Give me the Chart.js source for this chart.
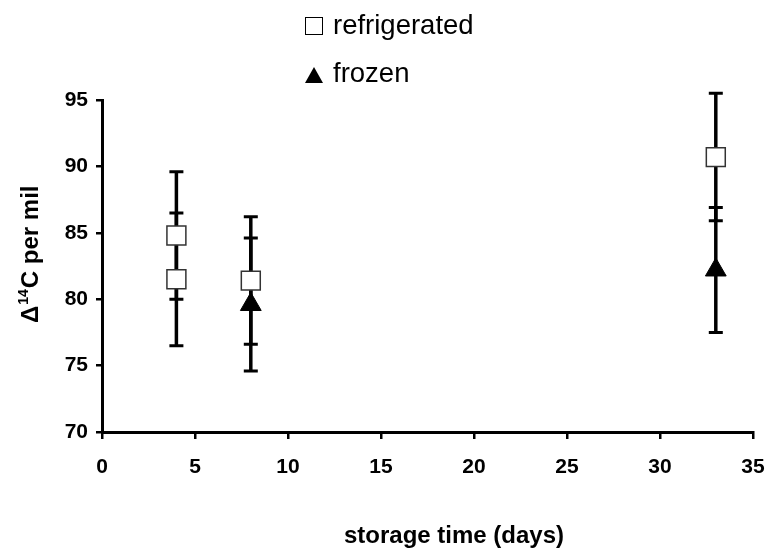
<!DOCTYPE html>
<html>
<head>
<meta charset="utf-8">
<script src="https://cdn.jsdelivr.net/npm/chart.js@4/dist/chart.umd.min.js"></script>
<style>
  html, body { margin: 0; padding: 0; background: #fff; }
  #wrap { position: relative; width: 771px; height: 550px; }
  #chart { position: absolute; left: 0; top: 0; }
  .leg { position: absolute; left: 305px; font: 27.5px "Liberation Sans", Arial, sans-serif; line-height: 26px; color: #000; white-space: nowrap; }
  .leg span.txt { position: absolute; left: 28px; top: 0; }
  .sq { position: absolute; left: 0; width: 16px; height: 16px; border: 1px solid #000; background: #fff; }
  .tri { position: absolute; left: 0; width: 0; height: 0; border-left: 9px solid transparent; border-right: 9px solid transparent; border-bottom: 16px solid #000; }
</style>
</head>
<body>
<div id="wrap">
  <canvas id="chart" width="771" height="550"></canvas>
  <div class="leg" style="top:12px"><i class="sq" style="top:5px"></i><span class="txt">refrigerated</span></div>
  <div class="leg" style="top:60px"><i class="tri" style="top:7px"></i><span class="txt">frozen</span></div>
</div>
<script>
  'use strict'

  // storage time (days) and Δ14C values
  var refrigDays = [4, 4, 8, 33];
  var refrigValues = [84.8, 81.5, 81.4, 90.7];
  var refrigErrors = [4.8, 5.0, 4.8, 4.8];

  var frozenDays = [8, 33];
  var frozenValues = [79.6, 82.2];
  var frozenErrors = [5.0, 4.7];

  var xTicks = [0, 5, 10, 15, 20, 25, 30, 35];
  var yTicks = [70, 75, 80, 85, 90, 95];

  var xTitle = 'storage time (days)';
  var yTitle = ['Δ', '14', 'C per mil'];   // base, superscript, rest

  var fontFamily = '"Liberation Sans", Arial, sans-serif';

  function toPoints(xs, ys) {
    return xs.map(function (x, i) { return { x: x, y: ys[i] }; });
  }

  // vertical error bars with caps, drawn under the markers
  var errorBars = {
    id: 'errorBars',
    beforeDatasetsDraw: function (chart) {
      var ctx = chart.ctx;
      var xs = chart.scales.x, ys = chart.scales.y;
      chart.data.datasets.forEach(function (ds) {
        ds.data.forEach(function (p, i) {
          var e = ds.errors[i];
          var px = xs.getPixelForValue(p.x);
          var top = ys.getPixelForValue(p.y + e);
          var bot = ys.getPixelForValue(p.y - e);
          ctx.save();
          ctx.strokeStyle = '#000';
          ctx.lineWidth = 3.5;
          ctx.beginPath();
          ctx.moveTo(px, top);
          ctx.lineTo(px, bot);
          ctx.stroke();
          ctx.lineWidth = 3;
          ctx.beginPath();
          ctx.moveTo(px - 7, top); ctx.lineTo(px + 7, top);
          ctx.moveTo(px - 7, bot); ctx.lineTo(px + 7, bot);
          ctx.stroke();
          ctx.restore();
        });
      });
    }
  };

  // axis titles: the y one needs a real superscript, the x one sits right of centre
  var axisTitles = {
    id: 'axisTitles',
    afterDraw: function (chart) {
      var ctx = chart.ctx;
      ctx.save();
      ctx.fillStyle = '#000';
      ctx.font = 'bold 24px ' + fontFamily;
      ctx.textAlign = 'center';
      ctx.textBaseline = 'alphabetic';
      ctx.fillText(xTitle, 454, 543);

      ctx.translate(38, 323);
      ctx.rotate(-Math.PI / 2);
      ctx.textAlign = 'left';
      var x = 0;
      ctx.font = 'bold 24px ' + fontFamily;
      ctx.fillText(yTitle[0], x, 0);
      x += ctx.measureText(yTitle[0]).width + 1;
      ctx.font = 'bold 14px ' + fontFamily;
      ctx.fillText(yTitle[1], x, -10);
      x += ctx.measureText(yTitle[1]).width + 1;
      ctx.font = 'bold 24px ' + fontFamily;
      ctx.fillText(yTitle[2], x, 0);
      ctx.restore();
    }
  };

  var tickFont = { family: fontFamily, size: 21, weight: 'bold' };

  new Chart(document.getElementById('chart'), {
    type: 'scatter',
    data: {
      datasets: [{
        label: 'refrigerated',
        data: toPoints(refrigDays, refrigValues),
        errors: refrigErrors,
        pointStyle: 'rect',
        pointRadius: 13.4,
        pointBackgroundColor: '#fff',
        pointBorderColor: '#333',
        pointBorderWidth: 1.5
      }, {
        label: 'frozen',
        data: toPoints(frozenDays, frozenValues),
        errors: frozenErrors,
        pointStyle: 'triangle',
        pointRadius: 12,
        pointBackgroundColor: '#000',
        pointBorderColor: '#000',
        pointBorderWidth: 1
      }]
    },
    options: {
      responsive: false,
      animation: false,
      layout: { padding: { top: 100, right: 18, left: 0, bottom: 0 } },
      plugins: {
        legend: { display: false },
        tooltip: { enabled: false }
      },
      scales: {
        x: {
          type: 'linear',
          min: 0,
          max: 35,
          afterFit: function (s) { s.height = 118; s.paddingLeft = 0; s.paddingRight = 0; },
          afterBuildTicks: function (s) { s.ticks = xTicks.map(function (v) { return { value: v }; }); },
          ticks: { color: '#000', font: tickFont, padding: 16, maxRotation: 0 },
          grid: { drawOnChartArea: false, drawTicks: true, tickLength: 7, color: '#000', lineWidth: 2.5 },
          border: { display: true, color: '#000', width: 3 }
        },
        y: {
          min: 70,
          max: 95,
          afterFit: function (s) { s.width = 102; s.paddingTop = 0; s.paddingBottom = 0; },
          afterBuildTicks: function (s) { s.ticks = yTicks.map(function (v) { return { value: v }; }); },
          ticks: { color: '#000', font: tickFont, padding: 8 },
          grid: { drawOnChartArea: false, drawTicks: true, tickLength: 6, color: '#000', lineWidth: 2.5 },
          border: { display: true, color: '#000', width: 3 }
        }
      }
    },
    plugins: [errorBars, axisTitles]
  });
</script>
</body>
</html>
